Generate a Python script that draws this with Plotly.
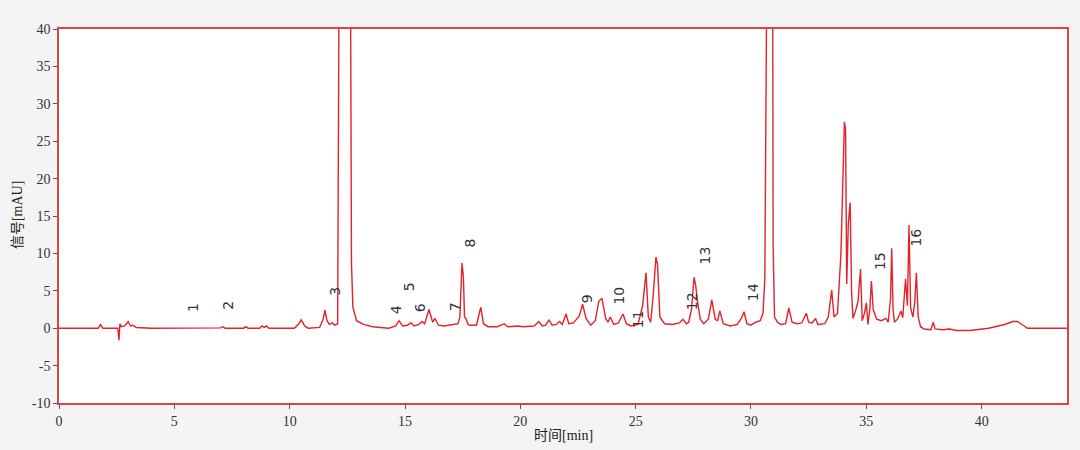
import plotly.graph_objects as go

# Chromatogram trace: retention time [min] and signal [mAU]
time_min = [
    0.0, 1.70, 1.80, 1.90, 2.55, 2.60, 2.64, 2.70, 2.85, 3.00, 3.10, 3.20, 3.35, 3.60, 4.0,
    7.0, 7.1, 7.2, 8.0, 8.1, 8.2, 8.7, 8.8, 8.9, 9.0, 9.1, 10.2, 10.4, 10.5, 10.65, 10.8,
    11.3, 11.45, 11.53, 11.62, 11.72, 11.85, 11.95, 12.08, 12.14, 12.3, 12.5, 12.64, 12.68,
    12.74, 12.9, 13.2, 13.6, 14.3, 14.6, 14.74, 14.9, 15.1, 15.26, 15.4, 15.6, 15.74, 15.85,
    16.04, 16.2, 16.3, 16.45, 16.7, 16.9, 17.1, 17.3, 17.38, 17.47, 17.53, 17.58, 17.64,
    17.72, 17.8, 18.1, 18.22, 18.29, 18.4, 18.6, 19.0, 19.3, 19.45, 19.9, 20.1, 20.6, 20.8,
    20.95, 21.1, 21.24, 21.38, 21.55, 21.7, 21.82, 21.98, 22.1, 22.3, 22.45, 22.55, 22.7,
    22.85, 23.05, 23.25, 23.4, 23.54, 23.7, 23.8, 23.9, 24.05, 24.25, 24.45, 24.6, 24.8,
    25.1, 25.3, 25.45, 25.55, 25.65, 25.75, 25.88, 25.95, 26.05, 26.25, 26.6, 26.9, 27.05,
    27.2, 27.3, 27.42, 27.53, 27.6, 27.68, 27.8, 27.95, 28.15, 28.3, 28.45, 28.55, 28.65,
    28.8, 29.1, 29.4, 29.58, 29.7, 29.82, 30.0, 30.2, 30.4, 30.52, 30.6, 30.68, 30.8, 30.92,
    30.96, 31.02, 31.15, 31.3, 31.5, 31.64, 31.78, 32.0, 32.2, 32.4, 32.5, 32.65, 32.8,
    32.9, 33.2, 33.35, 33.5, 33.6, 33.75, 33.9, 33.97, 34.05, 34.1, 34.15, 34.22, 34.3,
    34.36, 34.42, 34.55, 34.64, 34.75, 34.82, 34.92, 35.0, 35.07, 35.15, 35.22, 35.3, 35.45,
    35.65, 35.85, 35.95, 36.05, 36.1, 36.16, 36.22, 36.35, 36.5, 36.58, 36.7, 36.78, 36.85,
    36.92, 37.02, 37.1, 37.17, 37.25, 37.35, 37.5, 37.8, 37.9, 37.98, 38.3, 38.6, 38.9,
    39.5, 40.3, 41.0, 41.35, 41.55, 41.8, 41.98, 43.7,
]
signal_mau = [
    0.0, 0.0, 0.5, 0.0, 0.0, -1.6, 0.6, 0.2, 0.3, 0.9, 0.3, 0.4, 0.1, 0.05, 0.0,
    0.05, 0.2, 0.0, 0.0, 0.2, 0.0, 0.0, 0.3, 0.1, 0.3, 0.0, 0.0, 0.6, 1.1, 0.3, 0.0,
    0.1, 1.2, 2.4, 1.0, 0.5, 0.7, 0.4, 0.6, 45, 250, 250, 45, 8.7,
    2.8, 1.0, 0.5, 0.2, 0.0, 0.3, 1.0, 0.3, 0.4, 0.7, 0.3, 0.5, 0.9, 0.6,
    2.5, 0.8, 1.3, 0.4, 0.3, 0.4, 0.4, 0.6, 1.5, 8.7, 7.0, 1.5, 1.3,
    0.6, 0.4, 0.4, 2.0, 2.8, 0.6, 0.2, 0.2, 0.6, 0.2, 0.3, 0.2, 0.3, 0.9,
    0.3, 0.4, 1.1, 0.4, 0.5, 0.9, 0.5, 1.9, 0.6, 0.7, 1.3, 1.6, 3.2,
    1.3, 0.4, 1.0, 3.6, 4.0, 1.3, 0.8, 1.5, 0.5, 0.7, 1.9, 0.6, 0.3,
    0.5, 3.0, 7.4, 1.5, 0.8, 4.0, 9.5, 8.5, 1.5, 0.6, 0.5, 0.7, 1.2,
    0.6, 0.8, 2.5, 6.8, 5.8, 3.6, 1.2, 0.6, 1.2, 3.8, 1.2, 1.0, 2.3,
    0.6, 0.3, 0.5, 1.3, 2.2, 0.6, 0.4, 0.8, 1.0, 2.0, 6.7, 45, 300, 45,
    11, 1.5, 0.8, 0.5, 0.6, 2.7, 0.8, 0.6, 0.7, 2.0, 0.8, 0.7, 1.3,
    0.5, 0.6, 1.5, 5.1, 1.5, 2.0, 10, 19.3, 27.6, 26.5, 5.9, 14, 16.8,
    5, 1.3, 2.5, 3.6, 7.9, 1.0, 2.0, 3.4, 0.5, 2.5, 6.3, 2.5, 1.2,
    1.0, 1.3, 0.8, 4, 10.7, 2.5, 0.8, 1.2, 2.3, 1.4, 6.6, 3, 13.8,
    2.7, 1.5, 3.5, 7.4, 1.5, 0.2, -0.1, -0.2, 0.8, -0.1, -0.2, -0.1, -0.3,
    -0.3, 0.0, 0.5, 0.9, 0.9, 0.4, 0.0, 0.0,
]

# Peak number labels (text, retention time, label height)
peak_labels = ["1", "2", "3", "4", "5", "6", "7", "8", "9", "10", "11", "12", "13", "14", "15", "16"]
label_time = [5.81, 7.33, 11.96, 14.6, 15.17, 15.65, 17.17, 17.8, 22.9, 24.3, 25.1, 27.44, 28.0, 30.08, 35.6, 37.15]
label_level = [2.7, 3.0, 5.0, 2.5, 5.6, 2.8, 2.8, 11.4, 3.9, 4.3, 1.2, 3.6, 9.7, 4.8, 9.0, 12.1]

x_ticks = [0, 5, 10, 15, 20, 25, 30, 35, 40]
y_ticks = [-10, -5, 0, 5, 10, 15, 20, 25, 30, 35, 40]

RED = "#e3222b"
FRAME = "#d9444b"
BG = "#f4f4f4"

fig = go.Figure()
fig.add_trace(go.Scatter(
    x=time_min, y=signal_mau, mode="lines",
    line=dict(color=RED, width=1.4), hoverinfo="skip", showlegend=False,
))

for txt, t, lv in zip(peak_labels, label_time, label_level):
    fig.add_annotation(
        x=t, y=lv, xref="x", yref="y", text=txt, showarrow=False, textangle=-90,
        font=dict(family="DejaVu Sans", size=14, color="#333333"),
        xanchor="center", yanchor="middle",
    )

fig.add_annotation(
    x=0.5, y=-0.083, xref="paper", yref="paper", showarrow=False,
    text="时间<span style='font-family:Liberation Serif'>[min]</span>",
    font=dict(family="Noto Sans CJK SC", size=14, color="#222222"),
    xanchor="center", yanchor="middle",
)
fig.add_annotation(
    x=-0.0425, y=0.503, xref="paper", yref="paper", showarrow=False, textangle=-90,
    text="信号<span style='font-family:Liberation Serif'>[mAU]</span>",
    font=dict(family="Noto Sans CJK SC", size=14, color="#222222"),
    xanchor="center", yanchor="middle",
)

axis_font = dict(family="Liberation Serif", size=14, color="#333333")
fig.update_xaxes(
    range=[0, 43.7], tickvals=x_ticks, ticktext=[str(v) for v in x_ticks],
    showgrid=False, zeroline=False, showline=True, linecolor=FRAME, linewidth=1.5,
    mirror=True, ticks="outside", ticklen=4, tickcolor="#555555", tickfont=axis_font,
)
fig.update_yaxes(
    range=[-10, 40], tickvals=y_ticks, ticktext=[str(v) for v in y_ticks],
    showgrid=False, zeroline=False, showline=True, linecolor=FRAME, linewidth=1.5,
    mirror=True, ticks="outside", ticklen=4, tickcolor="#555555", tickfont=axis_font,
)
fig.update_layout(
    width=1080, height=450,
    margin=dict(l=59, r=13, t=29, b=47),
    paper_bgcolor=BG, plot_bgcolor="#ffffff",
)

fig.write_html(
    "out.html",
    config={"displayModeBar": False},
    post_script="document.body.style.margin='0';document.body.style.background='%s';" % BG,
)
